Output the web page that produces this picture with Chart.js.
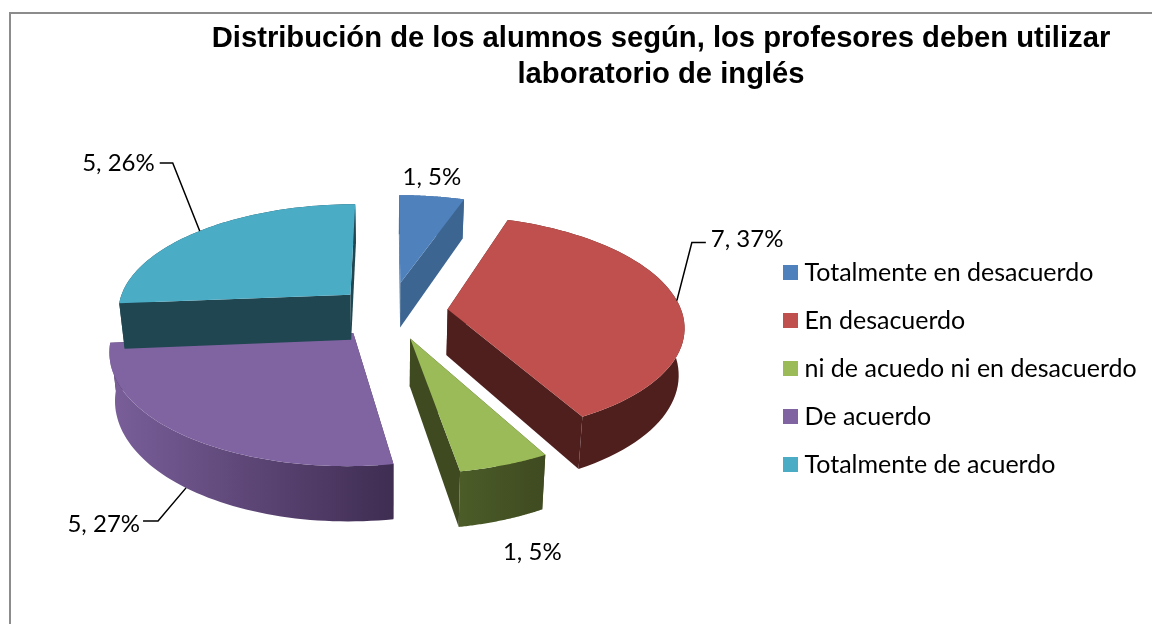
<!DOCTYPE html>
<html>
<head>
<meta charset="utf-8">
<title>Distribución de los alumnos</title>
<script src="https://cdn.jsdelivr.net/npm/chart.js@4"></script>
<style>
    html, body { margin: 0; padding: 0; background: #fff; overflow: hidden; }
    canvas { display: block; }
</style>
</head>
<body>
<canvas id="pieChart" width="1152" height="624"></canvas>
<script>
const categories = ["Totalmente en desacuerdo", "En desacuerdo", "ni de acuedo ni en desacuerdo", "De acuerdo", "Totalmente de acuerdo"];
const responses = [1, 7, 1, 5, 5];
const percentLabels = [5, 37, 5, 27, 26];
const titleLines = ["Distribución de los alumnos según, los profesores deben utilizar", "laboratorio de inglés"];

const topColors = ["#4F81BD", "#C0504D", "#9BBB59", "#8064A2", "#4BACC6"];
const wallFrom = ["#3D6591", "#4F1F1E", "#4B5C28", "#7A5F9A", "#1F4651"];
const wallTo = ["#3D6591", "#4F1F1E", "#3F4A20", "#3F2D52", "#1F4651"];

// how far each slice is pulled out of the pie, px in the pie plane
const explode = [65, 58, 60, 58, 55];

// fake 3D view: the old office style pie with perspective
const view = { tilt: 0.46, persp: 0.0006, depth: 46, taper: 0.02 };

function project(arc, u, v, h) {
    const s = 1 / (1 - view.persp * v);
    // walls narrow a little going down
    const narrow = 1 + view.taper * h / view.depth;
    return { x: arc.x + u * s * narrow, y: arc.y + (v * view.tilt - h) * s };
}

function slicePoint(arc, i, angle, r, h) {
    const mid = (arc.startAngle + arc.endAngle) / 2;
    const u = Math.cos(mid) * explode[i] + Math.cos(angle) * r;
    const v = Math.sin(mid) * explode[i] + Math.sin(angle) * r;
    return project(arc, u, v, h);
}

function fillPoly(ctx, pts, color) {
    ctx.beginPath();
    pts.forEach((p, n) => n ? ctx.lineTo(p.x, p.y) : ctx.moveTo(p.x, p.y));
    ctx.closePath();
    ctx.fillStyle = color;
    ctx.fill();
}

function drawSlice(ctx, arc, i) {
    const R = arc.outerRadius;
    const top = [], bottom = [];
    const steps = 60;
    for (let n = 0; n <= steps; n++) {
        const a = arc.startAngle + (arc.endAngle - arc.startAngle) * n / steps;
        top.push(slicePoint(arc, i, a, R, 0));
        bottom.push(slicePoint(arc, i, a, R, -view.depth));
    }
    const apexTop = slicePoint(arc, i, 0, 0, 0);
    const apexBottom = slicePoint(arc, i, 0, 0, -view.depth);

    // cut walls
    fillPoly(ctx, [apexTop, top[0], bottom[0], apexBottom], wallTo[i]);
    fillPoly(ctx, [apexTop, top[steps], bottom[steps], apexBottom], wallTo[i]);

    // outer wall, shaded left to right
    const xs = top.map(p => p.x);
    const grad = ctx.createLinearGradient(Math.min(...xs), 0, Math.max(...xs), 0);
    grad.addColorStop(0, wallFrom[i]);
    grad.addColorStop(1, wallTo[i]);
    fillPoly(ctx, top.concat(bottom.slice().reverse()), grad);

    // top face
    fillPoly(ctx, [apexTop].concat(top), topColors[i]);
}

// legend swatch as a point style, the text then sits closer to it
function swatch(color) {
    const c = document.createElement("canvas");
    c.width = 15;
    c.height = 15;
    const g = c.getContext("2d");
    g.fillStyle = color;
    g.fillRect(0, 0, 15, 15);
    return c;
}

const pie3d = {
    id: "pie3d",
    beforeDraw(chart) {
        const ctx = chart.ctx;
        ctx.save();
        ctx.fillStyle = "#fff";
        ctx.fillRect(0, 0, chart.width, chart.height);
        ctx.strokeStyle = "#8c8c8c";
        ctx.lineWidth = 2;
        ctx.strokeRect(10, 13, chart.width + 40, chart.height + 40);
        ctx.restore();
    },
    afterLayout(chart) {
        // the title sits over the plot + legend side, not the page centre
        chart.titleBlock.left += 85;
        chart.titleBlock.right += 85;
        // legend column
        const legend = chart.legend;
        legend.left = 789 - legend.options.labels.padding;
        legend.right = chart.width;
        legend.top = 237;
        legend.bottom = chart.height;
        // pie centre
        const area = chart.chartArea;
        area.left = 0; area.right = 780;
        area.top = 200; area.bottom = 423;
        area.width = 780; area.height = 223;
    },
    beforeDatasetDraw(chart, args) {
        const ctx = chart.ctx;
        ctx.save();
        args.meta.data.forEach((arc, i) => drawSlice(ctx, arc, i));
        ctx.restore();
        return false;
    },
    afterDatasetsDraw(chart) {
        const ctx = chart.ctx;
        const arcs = chart.getDatasetMeta(0).data;
        const label = i => `${responses[i]}, ${percentLabels[i]}%`;
        const midOf = i => (arcs[i].startAngle + arcs[i].endAngle) / 2;
        const edge = (i, h) => slicePoint(arcs[i], i, midOf(i), arcs[i].outerRadius, h);

        ctx.save();
        ctx.font = "24px Lato";
        ctx.fillStyle = "#000";
        ctx.strokeStyle = "#000";
        ctx.lineWidth = 1.5;
        ctx.textBaseline = "middle";

        // labels with a leader line: elbow and end relative to the slice edge
        const leaders = [
            { i: 1, h: 0, elbow: [15, -58], end: [29, -58], text: [34, -61], align: "left" },
            { i: 3, h: -view.depth, elbow: [-28, 33], end: [-43, 33], text: [-46, 36], align: "right" },
            { i: 4, h: 0, elbow: [-27, -68], end: [-40, -68], text: [-45, -68], align: "right" }
        ];
        leaders.forEach(l => {
            const p = edge(l.i, l.h);
            ctx.beginPath();
            ctx.moveTo(p.x, p.y);
            ctx.lineTo(p.x + l.elbow[0], p.y + l.elbow[1]);
            ctx.lineTo(p.x + l.end[0], p.y + l.end[1]);
            ctx.stroke();
            ctx.textAlign = l.align;
            ctx.fillText(label(l.i), p.x + l.text[0], p.y + l.text[1]);
        });

        // small slices just get the text
        ctx.textAlign = "center";
        const blue = edge(0, 0);
        ctx.fillText(label(0), blue.x, blue.y - 19);
        const green = edge(2, -view.depth);
        ctx.fillText(label(2), green.x + 30, green.y + 32);
        ctx.restore();
    }
};

new Chart(document.getElementById("pieChart"), {
    type: "pie",
    plugins: [pie3d],
    data: {
        labels: categories,
        datasets: [{
            data: responses,
            backgroundColor: topColors,
            borderWidth: 0,
            radius: 234,
            clip: false
        }]
    },
    options: {
        responsive: false,
        animation: false,
        plugins: {
            title: {
                display: true,
                text: titleLines,
                color: "#000",
                font: { family: "'Liberation Sans'", size: 29.2, weight: "bold", lineHeight: 1.23 },
                padding: { top: 21, bottom: 10 }
            },
            legend: {
                position: "right",
                align: "start",
                labels: {
                    font: { family: "Lato", size: 25 },
                    color: "#000",
                    usePointStyle: true,
                    pointStyleWidth: 3,
                    boxHeight: 15,
                    padding: 23,
                    generateLabels: chart => Chart.overrides.pie.plugins.legend.labels.generateLabels(chart)
                        .map((item, i) => ({ ...item, pointStyle: swatch(topColors[i]) }))
                }
            },
            tooltip: { enabled: false }
        }
    }
});
</script>
</body>
</html>
